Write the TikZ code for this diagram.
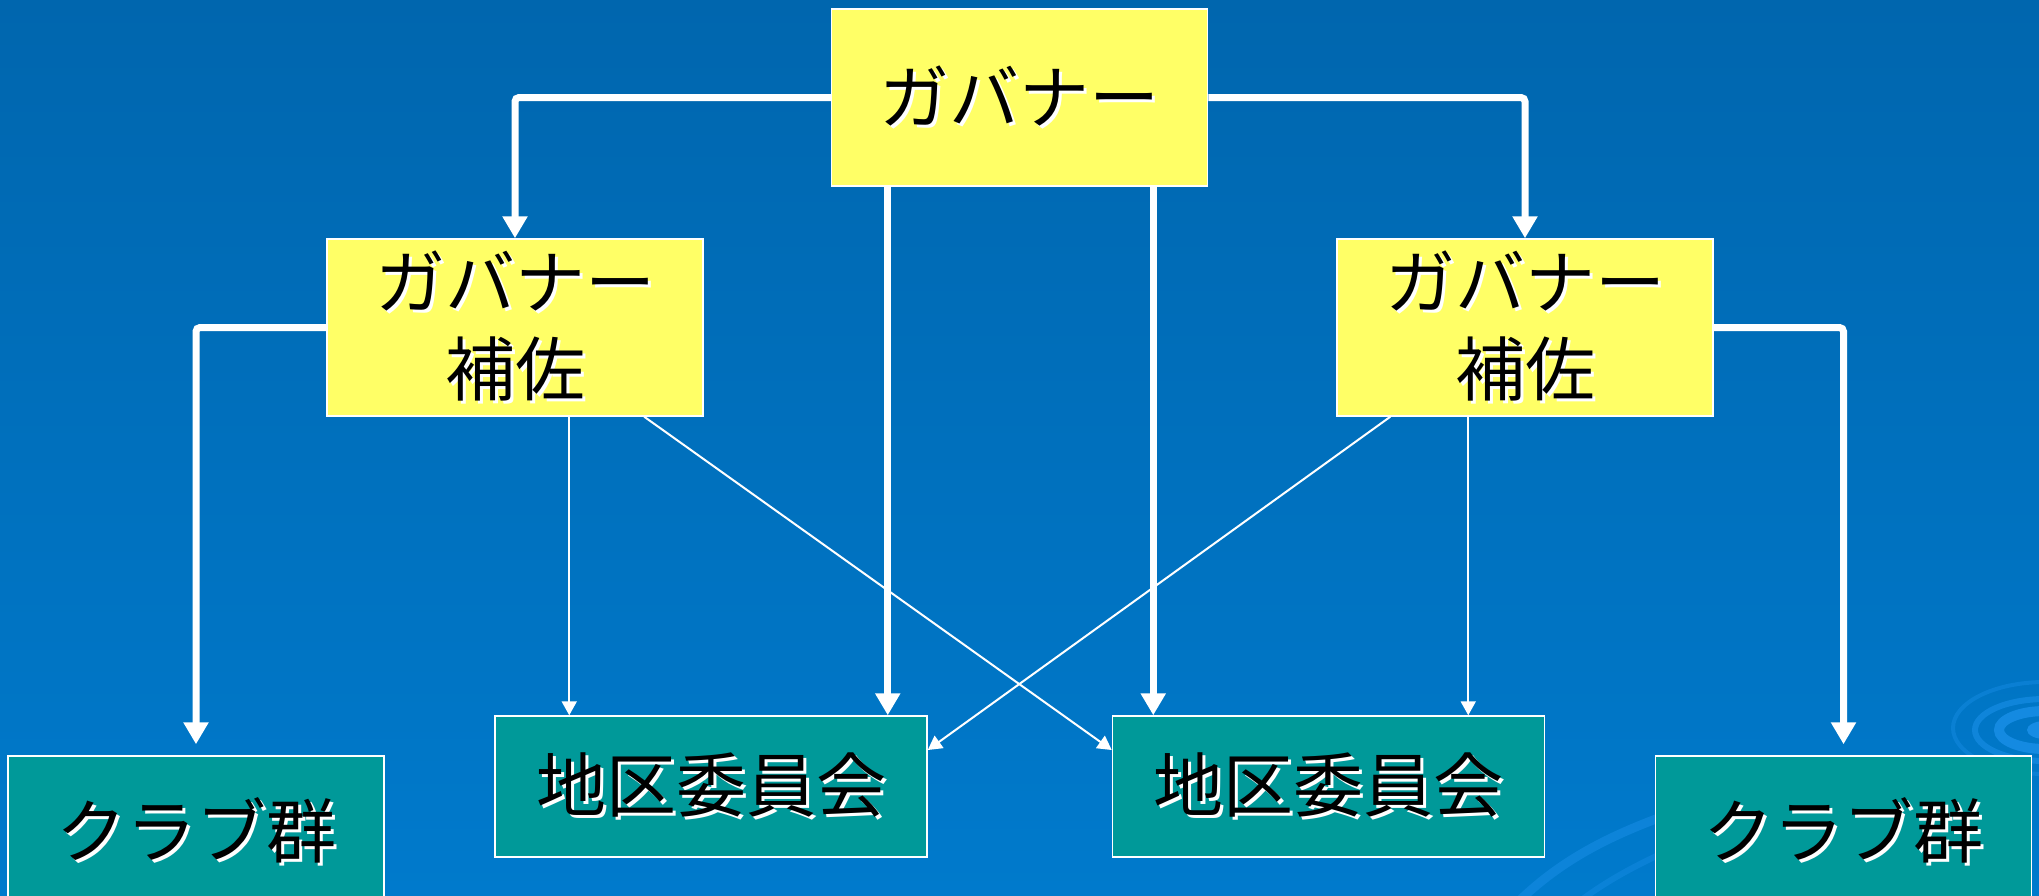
\documentclass[tikz,border=0pt]{standalone}
\usepackage{fontspec}
\newfontfamily\jp{Noto Sans CJK JP}
\usetikzlibrary{arrows.meta}
\definecolor{bgtop}{HTML}{0066AE}
\definecolor{bgbot}{HTML}{007ACC}
\definecolor{boxyel}{HTML}{FFFF66}
\definecolor{boxteal}{HTML}{009999}
\definecolor{swirlc}{HTML}{1A8FE8}
\newcommand\sht[1]{\rlap{\kern3pt\raisebox{-3pt}{\textcolor{white}{#1}}}#1}
\begin{document}
\begin{tikzpicture}[x=1pt,y=-1pt,
  box/.style={draw=white, line width=1.5pt, inner sep=0pt, align=center,
    font=\jp\fontsize{70}{87}\selectfont, text=black},
  yel/.style={box, fill=boxyel, minimum width=376pt, minimum height=177pt},
  club/.style={box, fill=boxteal, minimum width=376pt, minimum height=152pt},
  comm/.style={box, fill=boxteal, minimum width=432pt, minimum height=141pt},
  bigarr/.style={draw=white, line width=7pt, rounded corners=4pt,
    -{Triangle[width=24pt,length=22pt]}},
  smallarr/.style={draw=white, line width=2pt, -{Triangle[width=15pt,length=14pt]}}
]
\useasboundingbox (0,0) rectangle (2039,895);
\clip (0,0) rectangle (2039,895);
\shade[top color=bgtop, bottom color=bgbot] (0,0) rectangle (2039,895);
% background swirl
\fill[swirlc, opacity=0.9] (2045,730) ellipse [x radius=18, y radius=9];
\draw[swirlc, line width=10pt, opacity=0.8] (2045,730) ellipse [x radius=46, y radius=19];
\draw[swirlc, line width=6pt, opacity=0.6] (2045,730) ellipse [x radius=70, y radius=31];
\draw[swirlc, line width=4pt, opacity=0.4] (2045,728) ellipse [x radius=92, y radius=46];
\draw[swirlc, line width=9pt, opacity=0.5] (1515,905) .. controls (1560,860) and (1610,835) .. (1675,812);
\draw[swirlc, line width=6pt, opacity=0.4] (1575,905) .. controls (1600,885) and (1630,868) .. (1665,852);

\node[yel] (gov) at (1019.5,97.5) {\sht{ガバナー}};
\node[yel] (al) at (515,327.5) {\sht{ガバナー}\\\sht{補佐}};
\node[yel] (ar) at (1525,327.5) {\sht{ガバナー}\\\sht{補佐}};
\node[club] (cl) at (196,832) {\sht{クラブ群}};
\node[club] (cr) at (1843.5,832) {\sht{クラブ群}};
\node[comm] (dl) at (711,786.5) {\sht{地区委員会}};
\node[comm] (dr) at (1328.5,786.5) {\sht{地区委員会}};

\draw[bigarr] (gov.west) -| (al.north);
\draw[bigarr] (gov.east) -| (ar.north);
\draw[bigarr] ([xshift=57pt]gov.south west) -- ([xshift=57pt]gov.south west |- dl.north);
\draw[bigarr] ([xshift=-55pt]gov.south east) -- ([xshift=-55pt]gov.south east |- dr.north);
\draw[bigarr, shorten >=11pt] (al.west) -| (cl.north);
\draw[bigarr, shorten >=11pt] (ar.east) -| (cr.north);

\draw[smallarr] ([xshift=243pt]al.south west) -- ([xshift=243pt]al.south west |- dl.north);
\draw[smallarr] ([xshift=132pt]ar.south west) -- ([xshift=132pt]ar.south west |- dr.north);
\draw[smallarr] ([xshift=318pt]al.south west) -- ([yshift=36.5pt]dr.west);
\draw[smallarr] ([xshift=54pt]ar.south west) -- ([yshift=36.5pt]dl.east);
\end{tikzpicture}
\end{document}
